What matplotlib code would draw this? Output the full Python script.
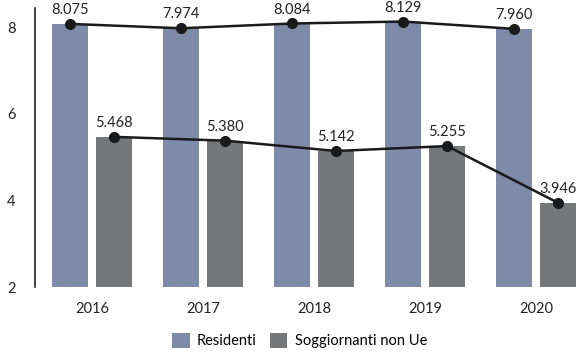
import numpy as np
import matplotlib.pyplot as plt

plt.rcParams['font.family'] = ['Lato', 'DejaVu Sans']

years = ['2016', '2017', '2018', '2019', '2020']
residenti = [8.075, 7.974, 8.084, 8.129, 7.960]
soggiornanti = [5.468, 5.380, 5.142, 5.255, 3.946]

blue = '#7D8AA8'
grey = '#767779'

x = np.arange(len(years))
w = 0.325
off = 0.198

fig = plt.figure(figsize=(5.76, 3.51), dpi=100)
ax = fig.add_axes([0.061, 0.182, 0.939, 0.795])

ax.bar(x - off, residenti, w, color=blue, label='Residenti')
ax.bar(x + off, soggiornanti, w, color=grey, label='Soggiornanti non Ue')

for xs, vals in [(x - off, residenti), (x + off, soggiornanti)]:
    ax.plot(xs, vals, color='#1a1a1a', lw=1.8, marker='o', ms=7, zorder=3)
    for xi, v in zip(xs, vals):
        ax.annotate(f'{v:.3f}', (xi, v), xytext=(0, 5), textcoords='offset points',
                    ha='center', va='bottom', fontsize=10.5, color='#222222')

ax.set_ylim(2, 8.44)
ax.set_xlim(-0.514, 4.36)
ax.set_yticks([2, 4, 6, 8])
ax.set_xticks(x)
ax.set_xticklabels(years)
ax.tick_params(axis='both', length=0, labelsize=10.5, colors='#222222')
ax.tick_params(axis='y', pad=14)
ax.tick_params(axis='x', pad=11)
for s in ['top', 'right', 'bottom']:
    ax.spines[s].set_visible(False)
ax.spines['left'].set_color('#222222')
ax.spines['left'].set_linewidth(1.2)

fig.legend(loc='lower center', bbox_to_anchor=(0.52, -0.03), ncol=2, frameon=False,
           fontsize=10.5, handlelength=1.2, handleheight=1.2, columnspacing=0.9,
           handletextpad=0.5)

fig.savefig('out.png', dpi=100)
